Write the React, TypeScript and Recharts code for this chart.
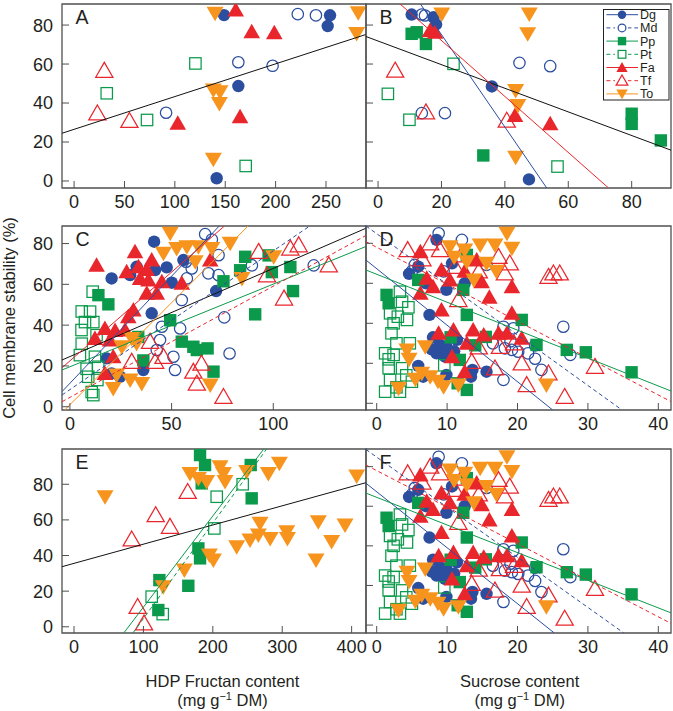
import React from 'react';
import { ScatterChart, Scatter, XAxis, YAxis, ReferenceArea, Legend } from 'recharts';

const FONT = '"Liberation Sans", Arial, Helvetica, sans-serif';
const BLUE = '#2c4e9f';
const GREEN = '#0b9a4b';
const RED = '#e9262c';
const ORANGE = '#f7941d';
const INK = '#231f20';
const FRAME = '#505050';

type P = [number, number];

// ---------- Panel A: HDP fructan content vs CMS ----------
const dgA: P[] = [[148.8, 85.1], [254, 85], [251.7, 79.5], [163, 48.7], [141.5, 1.4]];
const mdA: P[] = [[222, 85.6], [240, 85], [163, 60.9], [197, 59.1], [91.3, 35]];
const ppA: P[] = [];
const ptA: P[] = [[120.4, 60.3], [32.4, 45], [72.4, 31.3], [170.3, 7.7]];
const faA: P[] = [[160.4, 87.7], [176.3, 76.6], [198.7, 76], [102.9, 29.6], [164.7, 33]];
const tfA: P[] = [[30, 56.6], [23.1, 34.7], [54.9, 30.9]];
const toA: P[] = [[139.9, 86], [138.2, 46.7], [144.8, 45.8], [144.2, 39.8], [138.2, 11.1], [282, 86.3], [280.4, 75.7]];

// ---------- Panel B: sucrose content vs CMS ----------
const dgB: P[] = [[10.6, 85.4], [17.5, 84], [18.3, 80.3], [35.9, 48.5], [47.6, 0.8]];
const mdB: P[] = [[13.8, 85.4], [14.8, 84.9], [44.6, 60.6], [54.3, 58.9], [13.8, 34.8], [21.1, 34.8]];
const ppB: P[] = [[10.6, 75.5], [12.2, 76.3], [15.1, 70.3], [80, 34.5], [80, 29.3], [89.2, 20.8], [33.2, 13.1]];
const ptB: P[] = [[23.8, 60.1], [3.1, 44.7], [9.9, 31.4], [56.6, 7.4]];
const faB: P[] = [[16.4, 77.2], [18, 76.3], [43.2, 33.6], [54.3, 29.3]];
const tfB: P[] = [[5.4, 56.7], [15.1, 35.3], [40.6, 31]];
const toB: P[] = [[20.1, 85.7], [47.7, 85.7], [47.2, 75.5], [43.4, 46.4], [44.1, 38.7], [43.4, 12.2]];

// ---------- Panel C: HDP fructan content vs CMS ----------
const dgC: P[] = [[41.4, 80.9], [20.5, 62.9], [29.6, 64.5], [32.8, 68.6], [41.9, 67], [47.6, 68.3], [55.8, 71.9], [50.1, 60.8], [71.9, 56.7], [40.2, 45.8], [18.1, 23.7], [20.5, 16.3], [24.6, 14.7], [36.1, 18]];
const mdC: P[] = [[66.5, 84.6], [69.8, 82], [73.1, 74.3], [57.1, 71.1], [59.9, 67.8], [57.5, 62.9], [68.1, 65.4], [73.1, 64.5], [55, 52.3], [45.2, 39.2], [54.2, 38.4], [44.3, 32.7], [50.9, 24.5], [51.7, 18], [42.7, 27.8], [75.9, 43.8], [78.5, 26.1], [89.5, 69.3], [119.9, 69.3]];
const ppC: P[] = [[14, 54.7], [18.9, 50.2], [86.2, 73.5], [83.7, 66.9], [75.5, 61.5], [99.3, 66], [97.7, 74.2], [108.4, 68.5], [109.7, 56.7], [91.1, 45.3], [49.3, 42.4], [55, 31.9], [60.7, 29.4], [62.4, 27.8], [67.7, 28.6], [70.6, 17.2], [33.6, 34.2], [36.1, 22.7]];
const ptC: P[] = [[11.2, 56.4], [9.9, 46.6], [5.8, 46.7], [7.4, 41.5], [11.5, 41.5], [5.7, 37.6], [5.8, 30.9], [13.1, 35.1], [4.9, 25.3], [12.3, 24.5], [13.9, 19.6], [8.2, 18.6], [9, 14.7], [13.5, 13.1], [10.7, 7.2], [11.5, 5.7]];
const faC: P[] = [[13.1, 69.4], [32, 76], [27.9, 66.2], [33.7, 68.6], [37.8, 67.3], [40.2, 71.9], [34.5, 62.9], [38.6, 62.1], [45.2, 61.3], [55, 60.5], [69, 71.9], [42.7, 55.6], [37.8, 55.6], [31.2, 47.4], [28.7, 44.1], [17.2, 38.4], [12.3, 33.5], [19.7, 32.7], [27.1, 37.6], [21.3, 24.5], [17.2, 16.3], [22.2, 37.4]];
const tfC: P[] = [[92.8, 76], [108.4, 77.6], [112.5, 79.2], [96.9, 64.5], [105.3, 53.1], [127.3, 69.4], [39.4, 31.9], [46, 24.5], [41.9, 22.1], [30.4, 22.1], [60.7, 17.2], [64.7, 21.2], [62.4, 11.4], [75.5, 4.9]];
const toC: P[] = [[49.3, 85], [46, 75.2], [52.5, 77.6], [57.5, 78.4], [63.2, 78.4], [69.8, 77.6], [78.8, 80.1], [61.6, 71.1], [84.6, 62.9], [100.2, 73.5], [30.4, 33.5], [32.8, 31], [25.5, 29.4], [23, 15.5], [29.6, 13.1], [35.3, 11.4], [21.3, 9], [69, 10.6]];

// ---------- Panels D and F: sucrose content vs CMS ----------
const dgD: P[] = [[8.5, 81.7], [5.9, 68.3], [4.6, 64.7], [10.7, 70], [9.9, 56.7], [7.5, 44.2], [9, 29.2], [8.5, 25], [9.9, 28.3], [9.7, 23.3], [5.9, 18.7], [6.6, 13.3], [9.9, 14.2], [13.4, 13.3], [13.6, 16.7], [15.6, 15.8], [11.4, 31.7], [8, 33], [10.5, 33], [11, 26], [7.8, 27], [7, 60], [12.5, 60]];
const mdD: P[] = [[8.8, 85], [12.1, 81.7], [15.6, 69.2], [5.4, 69.2], [26.5, 38.3], [18, 38.3], [19.4, 37.5], [19.2, 26.7], [18.2, 27.5], [20.1, 25.8], [21.5, 25], [27.5, 24.2], [23.4, 16.7], [18, 11.7], [22.5, 22.3], [5, 66], [9.5, 66], [16.5, 30], [19, 31], [22.5, 29]];
const ppD: P[] = [[1.4, 54.2], [1.7, 50], [5.9, 61.7], [12.3, 56.7], [12.8, 44.2], [20.6, 41.7], [22.7, 29.2], [27, 26.7], [29.7, 25.5], [36.2, 15.5], [12.8, 6.7], [11.8, 21.7], [12.8, 74.2], [15.5, 33.2], [10.5, 33], [14, 29], [11.5, 10]];
const ptD: P[] = [[3.3, 55.8], [3.6, 50.8], [1.9, 45], [3, 43.3], [4.3, 41.7], [2.4, 40], [2.1, 35], [1.2, 25], [2.4, 24.2], [1.7, 17.5], [3.6, 17.5], [1.9, 11.7], [5, 10.8], [3.3, 5.8], [1.2, 5.8], [9.6, 19], [4.5, 48], [2.8, 30], [4.7, 30], [1.7, 22], [4.2, 14], [2.8, 8]];
const faD: P[] = [[6.2, 75.8], [9.2, 66.7], [7.1, 62.5], [10.4, 61.7], [8, 58.3], [6.2, 55], [14.2, 71.7], [14.9, 60.8], [19.2, 58.3], [9.2, 46.7], [19.2, 45], [8.8, 35], [10.9, 36.7], [10.7, 23.3], [12.5, 15.8], [12.8, 30], [13.7, 36.7], [15.2, 34.2], [17.3, 35], [18.5, 35], [20.6, 32.5], [12.5, 66], [16, 53]];
const tfD: P[] = [[4.4, 76.7], [7.6, 80], [9, 76.7], [11.1, 68.3], [11.6, 51.7], [17.3, 73.3], [18.9, 70], [18.2, 65], [24.4, 63.3], [25.1, 65], [26, 65], [17.5, 28.3], [20.6, 20], [16.8, 17.5], [13.5, 20.8], [24.4, 15], [21.3, 9.2], [26.7, 3.3], [31, 18.3], [6.5, 72], [12, 74], [14.5, 66], [14.5, 28], [19.5, 30]];
const toD: P[] = [[18.5, 85], [10.4, 78.3], [12.5, 76.7], [14.7, 79.2], [16.8, 79.2], [19.2, 77.5], [15.6, 70], [12.8, 70.8], [13.8, 61.7], [4.3, 26.7], [6.9, 28.3], [6.4, 15], [7.6, 13.3], [9.5, 8.3], [11.6, 9.2], [3.1, 7.5], [24.1, 9.2], [4.6, 22], [11, 73], [17, 66], [5.5, 12], [8.7, 11]];

// ---------- Panel E: HDP fructan content vs CMS ----------
const dgE: P[] = [];
const mdE: P[] = [];
const ppE: P[] = [[181.6, 96.4], [188.8, 90.8], [254.6, 90.8], [256, 72.1], [179.2, 44], [181.6, 38.4], [123, 26.2], [164.7, 23], [121.5, 9.4], [184, 80.5]];
const ptE: P[] = [[205.6, 73], [243, 80], [202.2, 55.2], [111.9, 16.9], [127.8, 7.1]];
const faE: P[] = [];
const tfE: P[] = [[163.8, 75.8], [117.7, 62.7], [138.3, 56.2], [83.1, 49.1], [91.7, 11.2], [100.9, 1.9]];
const toE: P[] = [[44.7, 73], [167.1, 86.1], [179.2, 83.3], [191.1, 81.5], [210.4, 89.9], [215.2, 86.1], [217.6, 81.5], [248.8, 87.1], [280, 86.1], [295.9, 91.8], [195, 40.3], [200.8, 37.5], [159, 31.8], [128.6, 22.5], [234.4, 44.9], [253.6, 48.7], [268, 58.1], [265.6, 51.5], [282.6, 49.6], [306.5, 53.4], [307.5, 49.6], [352, 59], [371.2, 47.8], [348.7, 37.5], [390.5, 57.1], [407.3, 84.7]];

// ---------- regression lines (intercept b0, slope b1) ----------
type Reg = { sp: string; b0: number; b1: number };
const linesA: Reg[] = [{ sp: 'all', b0: 26.5, b1: 0.168 }];
const linesB: Reg[] = [{ sp: 'all', b0: 71.8, b1: -0.606 }, { sp: 'Dg', b0: 122.5, b1: -2.37 }, { sp: 'Fa', b0: 100.8, b1: -1.436 }];
const linesC: Reg[] = [{ sp: 'all', b0: 24.6, b1: 0.432 }, { sp: 'Pp', b0: 19.6, b1: 0.405 }, { sp: 'Tf', b0: 4.6, b1: 0.545 }, { sp: 'Md', b0: 8.4, b1: 0.68 }, { sp: 'Dg', b0: 11.5, b1: 1.05 }, { sp: 'Fa', b0: 22.5, b1: 0.87 }, { sp: 'To', b0: 1, b1: 1.0 }];
const linesD: Reg[] = [{ sp: 'Dg', b0: 67.3, b1: -2.826 }, { sp: 'Md', b0: 84.8, b1: -2.53 }, { sp: 'Tf', b0: 78.0, b1: -1.846 }, { sp: 'Pp', b0: 64.5, b1: -1.396 }];
const linesE: Reg[] = [{ sp: 'all', b0: 35.6, b1: 0.1077 }, { sp: 'Pp', b0: -40.2, b1: 0.512 }, { sp: 'Pt', b0: -49, b1: 0.536 }];

// ---------- tick labels ----------
const yTicks = [0, 20, 40, 60, 80];
const xTicksA = [0, 50, 100, 150, 200, 250];
const xTicksB = [0, 20, 40, 60, 80];
const xTicksC = [0, 50, 100];
const xTicksD = [0, 10, 20, 30, 40];
const xTicksE = [0, 100, 200, 300, 400];

// ---------- species styling ----------
const speciesNames = ['Dg', 'Md', 'Pp', 'Pt', 'Fa', 'Tf', 'To'];
const speciesColors = [BLUE, BLUE, GREEN, GREEN, RED, RED, ORANGE];
const speciesShapes = ['circle', 'circle', 'square', 'square', 'up', 'up', 'down'];
const speciesFilled = [true, false, true, false, true, false, true];
const speciesDashed = [false, true, false, true, false, true, false];

const toObj = (arr: P[]) => arr.map(([x, y]) => ({ x, y }));

function Marker({ cx, cy, sp, k = 1 }: { cx: number; cy: number; sp: string; k?: number }) {
  const i = speciesNames.indexOf(sp);
  const c = speciesColors[i];
  const filled = speciesFilled[i];
  const shape = speciesShapes[i];
  const common = { fill: filled ? c : 'none', stroke: filled ? 'none' : c, strokeWidth: filled ? 0 : 1.25 };
  if (shape === 'circle') return <circle cx={cx} cy={cy} r={(filled ? 6.2 : 5.7) * k} {...common} />;
  if (shape === 'square') {
    const h = (filled ? 6.2 : 5.7) * k;
    return <rect x={cx - h} y={cy - h} width={2 * h} height={2 * h} {...common} />;
  }
  if (shape === 'up') {
    const w = (filled ? 8.3 : 8.6) * k, t = (filled ? 8 : 8.3) * k, b = (filled ? 6.5 : 6.6) * k;
    return <polygon points={`${cx},${cy - t} ${cx + w},${cy + b} ${cx - w},${cy + b}`} {...common} />;
  }
  const w = 8.5 * k, t = 6.5 * k, b = 8 * k;
  return <polygon points={`${cx - w},${cy - t} ${cx + w},${cy - t} ${cx},${cy + b}`} {...common} />;
}

function clipLine(r: Reg, xd: number[], yd: number[]) {
  let xa = xd[0], xb = xd[1];
  if (r.b1 !== 0) {
    const u = (yd[0] - r.b0) / r.b1, v = (yd[1] - r.b0) / r.b1;
    xa = Math.max(xa, Math.min(u, v));
    xb = Math.min(xb, Math.max(u, v));
  }
  return [{ x: xa, y: r.b0 + r.b1 * xa }, { x: xb, y: r.b0 + r.b1 * xb }];
}

type PanelCfg = {
  id: string; col: number; box: number[]; xd: number[]; yd: number[]; xt: number[];
  data: Record<string, P[]>; lines: Reg[]; legend?: boolean;
};

const panels: PanelCfg[] = [
  { id: 'A', col: 0, box: [62, 4, 366, 188], xd: [-12, 289.7], yd: [-3.6, 90.8], xt: xTicksA,
    data: { Dg: dgA, Md: mdA, Pp: ppA, Pt: ptA, Fa: faA, Tf: tfA, To: toA }, lines: linesA },
  { id: 'B', col: 1, box: [366, 4, 671, 188], xd: [-3.8, 92.4], yd: [-3.6, 90.8], xt: xTicksB,
    data: { Dg: dgB, Md: mdB, Pp: ppB, Pt: ptB, Fa: faB, Tf: tfB, To: toB }, lines: linesB, legend: true },
  { id: 'C', col: 0, box: [62, 226, 366, 410], xd: [-3.9, 145.6], yd: [-1.6, 88.6], xt: xTicksC,
    data: { Dg: dgC, Md: mdC, Pp: ppC, Pt: ptC, Fa: faC, Tf: tfC, To: toC }, lines: linesC },
  { id: 'D', col: 1, box: [366, 226, 671, 410], xd: [-1.52, 41.8], yd: [-3.35, 88.65], xt: xTicksD,
    data: { Dg: dgD, Md: mdD, Pp: ppD, Pt: ptD, Fa: faD, Tf: tfD, To: toD }, lines: linesD },
  { id: 'E', col: 0, box: [62, 449, 366, 633], xd: [-17.3, 420.7], yd: [-3.5, 99.8], xt: xTicksE,
    data: { Dg: dgE, Md: mdE, Pp: ppE, Pt: ptE, Fa: faE, Tf: tfE, To: toE }, lines: linesE },
  { id: 'F', col: 1, box: [366, 449, 671, 633], xd: [-1.52, 41.8], yd: [-4.0, 88.9], xt: xTicksD,
    data: { Dg: dgD, Md: mdD, Pp: ppD, Pt: ptD, Fa: faD, Tf: tfD, To: toD }, lines: linesD },
];

const XTick = (props: any) => {
  const { x, y, payload } = props;
  return (
    <g>
      <line x1={x} x2={x} y1={y - 20} y2={y - 27} stroke={FRAME} strokeWidth={1} />
      <text x={x} y={y} textAnchor="middle" fontSize={18} fontFamily={FONT} fill={INK}>{payload.value}</text>
    </g>
  );
};

const makeYTick = (show: boolean) => (props: any) => {
  const { x, y, payload } = props;
  return (
    <g>
      <line x1={x + 9} x2={x + 16} y1={y} y2={y} stroke={FRAME} strokeWidth={1} />
      {show && (
        <text x={x} y={y} dy="0.36em" textAnchor="end" fontSize={18} fontFamily={FONT} fill={INK}>{payload.value}</text>
      )}
    </g>
  );
};

const LegendBox = () => (
  <svg width={67} height={92} style={{ display: 'block' }}>
    <rect x={0.5} y={0.5} width={65.5} height={90.5} fill="#fff" stroke="#222" strokeWidth={1} />
    {speciesNames.map((sp, i) => {
      const cy = 5.7 + 13.2 * i;
      return (
        <g key={sp}>
          <line x1={3.4} x2={35} y1={cy} y2={cy} stroke={speciesColors[i]} strokeWidth={1}
            strokeDasharray={speciesDashed[i] ? '4 3' : undefined} />
          {speciesFilled[i] ? null : <rect x={12} y={cy - 5} width={13} height={10} fill="#fff" />}
          <Marker cx={19} cy={cy} sp={sp} k={0.68} />
          <text x={37} y={cy} dy="0.36em" fontSize={12.5} fontFamily={FONT} fill={INK}>{sp}</text>
        </g>
      );
    })}
  </svg>
);

function Panel({ cfg }: { cfg: PanelCfg }) {
  const yAxisW = cfg.col === 0 ? 62 : 10;
  const mTop = 6;
  const xAxisH = 30;
  const [l, t, r, b] = cfg.box;
  const plotW = r - l;
  const plotH = b - t;
  const W = yAxisW + plotW + 1;
  const H = mTop + plotH + xAxisH;
  return (
    <div style={{ position: 'absolute', left: l - yAxisW, top: t - mTop }}>
      <ScatterChart width={W} height={H} margin={{ top: mTop, right: 1, bottom: 0, left: 0 }}>
        <XAxis type="number" dataKey="x" domain={cfg.xd} ticks={cfg.xt} allowDataOverflow interval={0}
          height={xAxisH} tickLine={false} tickSize={0} tickMargin={20} axisLine={false} tick={<XTick />} />
        <YAxis type="number" dataKey="y" domain={cfg.yd} ticks={yTicks} allowDataOverflow interval={0}
          width={yAxisW} tickLine={false} tickSize={0} tickMargin={9} axisLine={false}
          tick={makeYTick(cfg.col === 0)} />
        <ReferenceArea x1={cfg.xd[0]} x2={cfg.xd[1]} y1={cfg.yd[0]} y2={cfg.yd[1]} fill="none"
          stroke={FRAME} strokeWidth={1.3} ifOverflow="visible" />
        {speciesNames.map((sp) => (
          <Scatter key={sp} name={sp} data={toObj(cfg.data[sp] || [])} isAnimationActive={false}
            shape={(p: any) => <Marker cx={p.cx} cy={p.cy} sp={sp} />} />
        ))}
        {cfg.lines.map((ln, i) => {
          const si = speciesNames.indexOf(ln.sp);
          const color = si < 0 ? '#111' : speciesColors[si];
          const dash = si >= 0 && speciesDashed[si] ? '4 3' : undefined;
          return (
            <Scatter key={'l' + i} data={clipLine(ln, cfg.xd, cfg.yd)} isAnimationActive={false}
              legendType="none" line={{ stroke: color, strokeWidth: 1, strokeDasharray: dash }}
              shape={() => <g />} />
          );
        })}
        {cfg.legend && (
          <Legend layout="horizontal" verticalAlign="middle" align="center" content={() => <LegendBox />}
            wrapperStyle={{ left: 603.3 - (l - yAxisW), top: 9.3 - (t - mTop), width: 67, height: 92 }} />
        )}
      </ScatterChart>
    </div>
  );
}

export default function App() {
  return (
    <div style={{ position: 'absolute', left: 0, top: 0, width: 673, height: 711, background: '#fff', fontFamily: FONT }}>
      {panels.map((p) => <Panel key={p.id} cfg={p} />)}
      <svg width={673} height={711} style={{ position: 'absolute', left: 0, top: 0, pointerEvents: 'none' }} fontFamily={FONT}>
        {panels.map((p) => (
          <text key={p.id} x={p.box[0] + 13.5} y={p.box[1] + 20} fontSize={19.5} fill={INK}>{p.id}</text>
        ))}
        <text transform="translate(15,318) rotate(-90)" textAnchor="middle" fontSize={16.5} fill={INK}>Cell membrane stability (%)</text>
        <text x={222.5} y={687} textAnchor="middle" fontSize={16.5} fill={INK}>HDP Fructan content</text>
        <text x={222.5} y={706} textAnchor="middle" fontSize={16.5} fill={INK}>(mg g<tspan dy={-6} fontSize={11}>−1</tspan><tspan dy={6}> DM)</tspan></text>
        <text x={519.7} y={687} textAnchor="middle" fontSize={16.5} fill={INK}>Sucrose content</text>
        <text x={519.7} y={706} textAnchor="middle" fontSize={16.5} fill={INK}>(mg g<tspan dy={-6} fontSize={11}>−1</tspan><tspan dy={6}> DM)</tspan></text>
      </svg>
    </div>
  );
}
